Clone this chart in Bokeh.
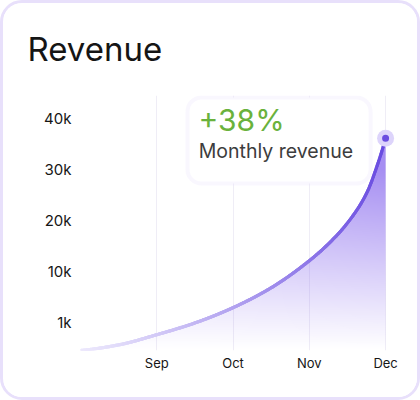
import numpy as np
from bokeh.plotting import figure
from bokeh.models import Range1d, FixedTicker, BoxAnnotation, Label, InlineStyleSheet
from bokeh.embed import file_html
from bokeh.resources import INLINE

# ---- data ----
months = ["Aug", "Sep", "Oct", "Nov", "Dec"]
month_labels = ["", "Sep", "Oct", "Nov", "Dec"]
month_pos = [0, 1, 2, 3, 4]
y_tick_labels = ["1k", "10k", "20k", "30k", "40k"]
y_tick_values = [5.5, 15.5, 25.5, 35.5, 45.5]
# samples of the revenue curve (months from Aug, k units of the drawn scale)
x_pos = [0, 0.5, 1, 1.5, 2, 2.5, 3, 3.25, 3.5, 3.75, 3.9, 4]
revenue_k = [0, 1.1, 3.1, 5.4, 8.4, 12.3, 17.6, 20.9, 25.0, 30.8, 36.7, 41.6]
growth_text = "+38%"
caption_text = "Monthly revenue"
title_text = "Revenue"

FONT = "Inter"

# ---- smooth monotone cubic (PCHIP) through the samples ----
def pchip(xs, ys, xq):
    x = np.asarray(xs, float); y = np.asarray(ys, float)
    h = np.diff(x); d = np.diff(y) / h
    m = np.zeros_like(y)
    for k in range(1, len(x) - 1):
        if d[k - 1] * d[k] > 0:
            w1 = 2 * h[k] + h[k - 1]; w2 = h[k] + 2 * h[k - 1]
            m[k] = (w1 + w2) / (w1 / d[k - 1] + w2 / d[k])
    m[0] = ((2 * h[0] + h[1]) * d[0] - h[0] * d[1]) / (h[0] + h[1])
    if m[0] * d[0] <= 0:
        m[0] = 0
    m[-1] = ((2 * h[-1] + h[-2]) * d[-1] - h[-1] * d[-2]) / (h[-1] + h[-2])
    idx = np.clip(np.searchsorted(x, xq) - 1, 0, len(x) - 2)
    t = (xq - x[idx]) / h[idx]
    h00 = 2 * t**3 - 3 * t**2 + 1; h10 = t**3 - 2 * t**2 + t
    h01 = -2 * t**3 + 3 * t**2; h11 = t**3 - t**2
    return h00 * y[idx] + h10 * h[idx] * m[idx] + h01 * y[idx + 1] + h11 * h[idx] * m[idx + 1]

cx = np.linspace(x_pos[0], x_pos[-1], 400)
cy = pchip(x_pos, revenue_k, cx)

card_css = InlineStyleSheet(css=""":host {
  border: 3px solid #e8e0fb;
  border-radius: 22px;
  overflow: hidden;
}""")

p = figure(width=420, height=400, output_backend="svg", toolbar_location=None,
           x_range=Range1d(0, 4.13), y_range=Range1d(0, 50),
           min_border_left=77, min_border_right=28, min_border_top=92, min_border_bottom=53)
p.stylesheets = [card_css]
p.background_fill_color = "white"
p.border_fill_color = "white"
p.outline_line_color = None

# ---- gradient area fill as an RGBA image ----
nx, ny = 306, 224
y_top = 44.0
xc = (np.arange(nx) + 0.5) / nx * (x_pos[-1] - x_pos[0]) + x_pos[0]
yc = (np.arange(ny) + 0.5) / ny * y_top
curve_at = np.interp(xc, cx, cy)
img = np.zeros((ny, nx), dtype=np.uint32)
view = img.view(dtype=np.uint8).reshape((ny, nx, 4))
Y = yc[:, None] * np.ones((1, nx))
X = np.ones((ny, 1)) * xc[None, :]
inside = Y <= curve_at[None, :]
alpha = np.clip(0.022 * Y, 0, 0.78) * (0.75 + 0.25 * X / 4)
view[:, :, 0] = 140
view[:, :, 1] = 110
view[:, :, 2] = 238
view[:, :, 3] = np.where(inside, (alpha * 255).astype(np.uint8), 0)
p.image_rgba(image=[img], x=x_pos[0], y=0, dw=x_pos[-1] - x_pos[0], dh=y_top)

# ---- gradient line ----
c0 = np.array([236, 232, 252])
c1 = np.array([104, 74, 224])
tm = ((cx[:-1] + cx[1:]) / 2 - x_pos[0]) / (x_pos[-1] - x_pos[0])
cols = []
for t in tm:
    c = c0 + (c1 - c0) * (t ** 1.2)
    cols.append("#%02x%02x%02x" % tuple(int(round(v)) for v in c))
p.segment(x0=cx[:-1], y0=cy[:-1], x1=cx[1:], y1=cy[1:], line_color=cols,
          line_width=3.2, line_cap="round")

# ---- end dot ----
p.scatter(x=[x_pos[-1]], y=[revenue_k[-1]], size=17, fill_color="#ddd4fb", line_color=None)
p.scatter(x=[x_pos[-1]], y=[revenue_k[-1]], size=7, fill_color="#6a4ce0", line_color=None)

# ---- axes ----
xt = FixedTicker(ticks=month_pos)
p.xaxis.ticker = xt
p.xgrid.ticker = xt
p.xaxis.major_label_overrides = {k: (v if v else " ") for k, v in zip(month_pos, month_labels)}
p.yaxis.ticker = FixedTicker(ticks=y_tick_values)
p.yaxis.major_label_overrides = dict(zip(y_tick_values, y_tick_labels))
for ax in (p.xaxis, p.yaxis):
    ax.axis_line_color = None
    ax.major_tick_line_color = None
    ax.minor_tick_line_color = None
    ax.major_tick_out = 0
    ax.major_tick_in = 0
    ax.minor_tick_out = 0
    ax.major_label_text_font = FONT
    ax.major_label_text_color = "#161616"
p.xaxis.major_label_text_font_size = "13px"
p.xaxis.major_label_standoff = 4
p.yaxis.major_label_text_font_size = "15px"
p.yaxis.major_label_standoff = 9
p.xgrid.grid_line_color = "#efedf6"
p.xgrid.grid_line_width = 1
p.ygrid.grid_line_color = None

# ---- title ----
p.title.text = title_text
p.title.text_font = FONT
p.title.text_font_size = "33px"
p.title.text_font_style = "normal"
p.title.text_color = "#151515"
p.title.align = "left"
p.title.vertical_align = "top"
p.title.offset = -53
p.title.standoff = 49

# ---- tooltip card ----
tip = BoxAnnotation(left=1.403, right=3.803, bottom=32.75, top=49.6,
                    fill_color="white", fill_alpha=1, line_color="#ece6fd",
                    line_width=4, border_radius=14)
p.add_layout(tip)
p.add_layout(Label(x=1.548, y=41.76, text=growth_text, text_font=FONT,
                   text_font_size="30px", text_color="#6ab23c", text_font_style="normal"))
p.add_layout(Label(x=1.55, y=36.86, text=caption_text, text_font=FONT,
                   text_font_size="19.5px", text_color="#3d3d3d"))

open("out.html", "w").write(file_html(p, INLINE))
